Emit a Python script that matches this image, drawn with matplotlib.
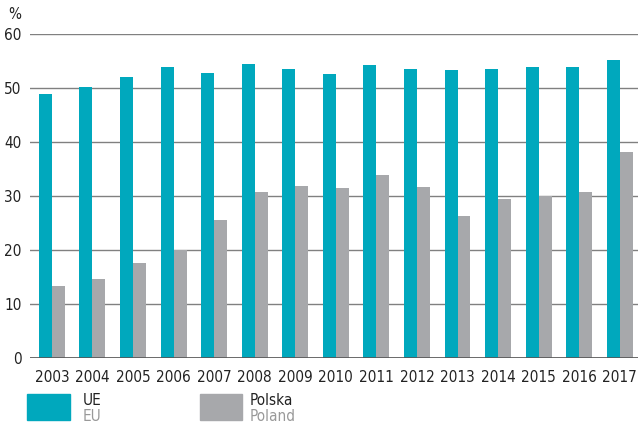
import matplotlib.pyplot as plt
from matplotlib.patches import Rectangle
from matplotlib import font_manager
import numpy as np

# --- dane ---
lata = ['2003', '2004', '2005', '2006', '2007', '2008', '2009', '2010',
        '2011', '2012', '2013', '2014', '2015', '2016', '2017']
ue = [48.9, 50.2, 52.1, 53.8, 52.8, 54.5, 53.6, 52.6,
      54.3, 53.6, 53.4, 53.6, 53.8, 53.8, 55.1]
polska = [13.3, 14.6, 17.6, 20.0, 25.6, 30.8, 31.9, 31.5,
          33.9, 31.7, 26.3, 29.4, 29.9, 30.7, 38.1]
y_ticks = [0, 10, 20, 30, 40, 50, 60]

kolor_ue = '#00a8bd'
kolor_pl = '#a7a8ab'

# czcionka waska, jesli jest
nazwy = {f.name for f in font_manager.fontManager.ttflist}
if 'Liberation Sans Narrow' in nazwy:
    fp = dict(family='Liberation Sans Narrow')
else:
    fp = dict(family='DejaVu Sans', stretch='condensed')

fig = plt.figure(figsize=(6.38, 4.25), dpi=100)
ax = fig.add_axes([0.047, 0.158, 0.953, 0.762])

x = np.arange(len(lata))
w = 0.32
ax.bar(x - w / 2, ue, width=w, color=kolor_ue, zorder=3)
ax.bar(x + w / 2, polska, width=w, color=kolor_pl, zorder=3)

ax.set_ylim(0, 60)
ax.set_xlim(-0.54, len(lata) - 0.55)
ax.set_yticks(y_ticks)
ax.set_xticks(x)
ax.set_xticklabels(lata, fontsize=11, color='#222222', **fp)
for t in ax.get_yticklabels():
    t.set_fontproperties(font_manager.FontProperties(size=11, **fp))
    t.set_color('#222222')
ax.tick_params(axis='both', length=0)
ax.tick_params(axis='x', pad=9)
ax.tick_params(axis='y', pad=6)
ax.grid(axis='y', color='#808080', linewidth=1.0, zorder=0)
for s in ax.spines.values():
    s.set_visible(False)
ax.axhline(0, color='#555555', linewidth=1.2, zorder=4)

fig.text(0.013, 0.955, '%', fontsize=11, color='#222222', **fp)

# legenda
fig.patches.append(Rectangle((0.042, 0.012), 0.067, 0.061, color=kolor_ue,
                             transform=fig.transFigure, figure=fig))
fig.text(0.13, 0.058, 'UE', fontsize=11, color='#222222', va='center', **fp)
fig.text(0.13, 0.02, 'EU', fontsize=11, color='#999999', va='center', **fp)
fig.patches.append(Rectangle((0.313, 0.012), 0.067, 0.061, color=kolor_pl,
                             transform=fig.transFigure, figure=fig))
fig.text(0.392, 0.058, 'Polska', fontsize=11, color='#222222', va='center', **fp)
fig.text(0.392, 0.02, 'Poland', fontsize=11, color='#999999', va='center', **fp)

fig.savefig('out.png', dpi=100)
